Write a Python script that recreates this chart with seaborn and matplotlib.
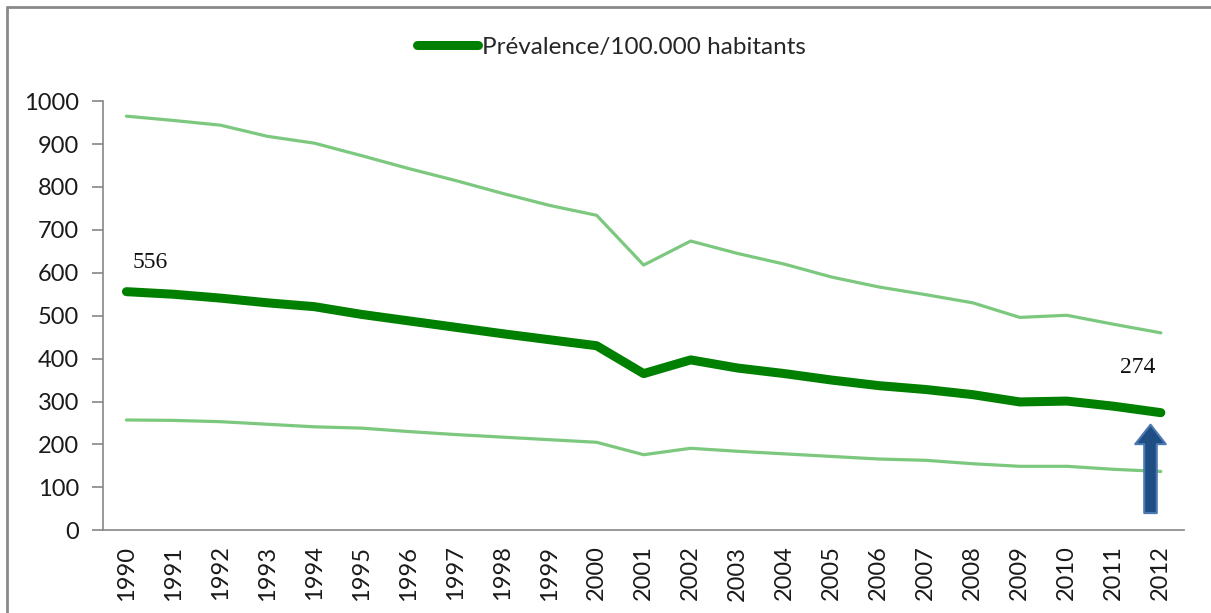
import matplotlib
matplotlib.use("Agg")
import matplotlib.pyplot as plt
import seaborn as sns
import pandas as pd
from matplotlib.lines import Line2D

years = list(range(1990, 2013))

prevalence = [556, 550, 541, 530, 521, 503, 488, 473, 458, 444, 430, 365,
              397, 378, 365, 350, 337, 328, 316, 299, 301, 289, 274]
upper = [965, 955, 944, 918, 902, 873, 843, 815, 785, 757, 734, 618,
         674, 645, 620, 590, 567, 549, 530, 496, 501, 480, 460]
lower = [257, 256, 253, 247, 241, 238, 230, 223, 217, 211, 205, 176,
         191, 184, 178, 172, 166, 163, 155, 149, 149, 142, 137]

first_label = "556"
last_label = "274"
legend_label = "Prévalence/100.000 habitants"

df = pd.DataFrame({"pos": range(len(years)), "year": years,
                   "prev": prevalence, "upper": upper, "lower": lower})

sns.set_style("white")
plt.rcParams["font.family"] = ["Lato", "DejaVu Sans"]

fig = plt.figure(figsize=(12.11, 6.13), dpi=100)
ax = fig.add_axes([0.085, 0.135, 0.893, 0.700])

light = "#7cc87e"
dark = "#008000"

sns.lineplot(data=df, x="pos", y="upper", color=light, linewidth=2.3, ax=ax)
sns.lineplot(data=df, x="pos", y="lower", color=light, linewidth=2.3, ax=ax)
sns.lineplot(data=df, x="pos", y="prev", color=dark, linewidth=6.5, ax=ax,
             solid_capstyle="round", solid_joinstyle="round")

ax.set_xlim(-0.5, len(years) - 0.5)
ax.set_ylim(0, 1000)
ax.set_yticks(range(0, 1001, 100))
ax.set_yticklabels([str(v) for v in range(0, 1001, 100)], fontsize=17, color="#1a1a1a")

ax.set_xticks(df["pos"])
ax.set_xticklabels([str(y) for y in years], rotation=90, fontsize=17, color="#1a1a1a")
ax.tick_params(axis="x", which="major", length=0, pad=11)
ax.set_xticks([p - 0.5 for p in range(len(years) + 1)], minor=True)
ax.tick_params(axis="x", which="minor", length=8, color="#868686", width=1.2)
ax.tick_params(axis="y", which="major", length=8, color="#868686", width=1.2,
               left=True, pad=9)

for s in ["top", "right"]:
    ax.spines[s].set_visible(False)
for s in ["left", "bottom"]:
    ax.spines[s].set_color("#868686")
    ax.spines[s].set_linewidth(1.2)
ax.set_xlabel("")
ax.set_ylabel("")

# value labels
serif = ["Liberation Serif", "DejaVu Serif"]
ax.text(0.5, 625, first_label, ha="center", va="center", fontsize=17,
        family=serif, color="#111111")
ax.text(len(years) - 1.5, 380, last_label, ha="center", va="center",
        fontsize=17, family=serif, color="#111111")

# arrow pointing to the last value
arrow_x = len(years) - 1.22
ax.annotate("", xy=(arrow_x, prevalence[-1] - 28), xytext=(arrow_x, 40),
            arrowprops=dict(width=9, headwidth=22, headlength=14,
                            facecolor="#1f4e85", edgecolor="#4a78b0", linewidth=1.5))

# legend
handle = Line2D([0], [0], color=dark, linewidth=6.5, solid_capstyle="round")
fig.legend([handle], [legend_label], loc="center", bbox_to_anchor=(0.505, 0.923),
           frameon=False, fontsize=17.5, handlelength=2.5, handletextpad=0.15)

# chart frame (top and left edges visible)
fig.add_artist(Line2D([7 / 1211, 1.0], [1 - 7 / 613, 1 - 7 / 613], color="#8a8a8a",
                      linewidth=2, transform=fig.transFigure))
fig.add_artist(Line2D([7 / 1211, 7 / 1211], [0.0, 1 - 7 / 613], color="#8a8a8a",
                      linewidth=2, transform=fig.transFigure))

fig.savefig("out.png", dpi=100)
